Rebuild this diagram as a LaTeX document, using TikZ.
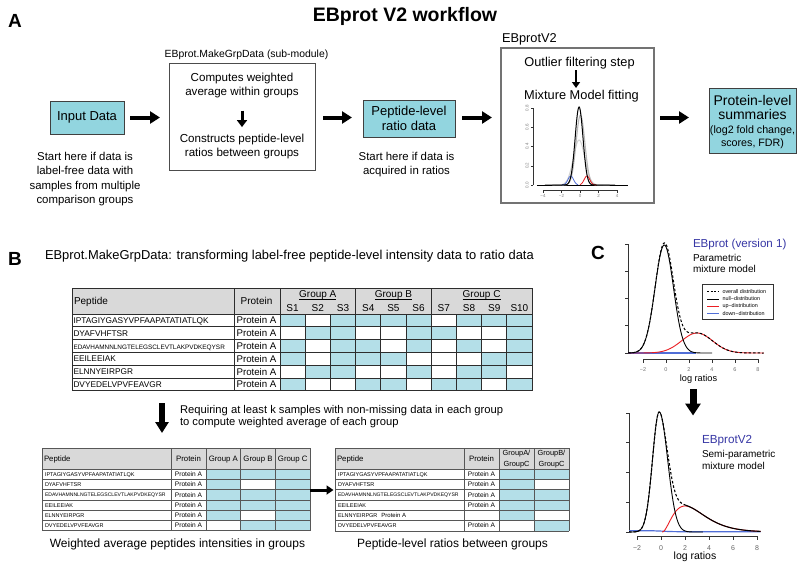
\documentclass[tikz,border=0pt]{standalone}
\usepackage{fontspec}
\setmainfont{Liberation Sans}
\usetikzlibrary{arrows.meta}
\definecolor{boxcyan}{RGB}{146,213,223}
\definecolor{cellblue}{RGB}{180,223,232}
\definecolor{hdrgray}{RGB}{217,217,217}
\definecolor{lblblue}{RGB}{55,55,165}
\definecolor{upred}{RGB}{235,30,35}
\definecolor{downblue}{RGB}{80,110,215}
\definecolor{gridc}{RGB}{45,45,45}
\newcommand{\fsz}[2]{\fontsize{#1}{#2}\selectfont}
\begin{document}
\begin{tikzpicture}[x=1pt,y=-1pt,
  every node/.style={inner sep=0pt,outer sep=0pt},
  cbox/.style={draw=black!75,line width=0.9pt,fill=boxcyan},
  bigarrow/.style={line width=4pt,-{Triangle[length=10pt,width=12pt]}},
  midarrow/.style={line width=3pt,-{Triangle[length=7pt,width=10pt]}},
  smallarrow/.style={line width=2.6pt,-{Triangle[length=6pt,width=8pt]}},
  fatdown/.style={line width=6pt,-{Triangle[length=11pt,width=13pt]}},
  gridline/.style={draw=gridc,line width=0.8pt},
  thingrid/.style={draw=gridc!80,line width=0.6pt},
  axisl/.style={draw=black!80,line width=0.6pt},
  ticklbl/.style={text=black!55,font=\fsz{5.5}{6}},
]
\useasboundingbox[fill=white] (0,0) rectangle (800,565);

% ================= A =================
\node[font=\bfseries\fsz{19}{19}, anchor=base] (lblA) at (15,27) {A};
\node[font=\bfseries\fsz{19.5}{20}, anchor=base] (title) at (405,21) {EBprot V2 workflow};

\node[cbox, minimum width=74pt, minimum height=33pt, font=\fsz{13}{15}] (inp) at (87,117.5) {Input Data};
\node[font=\fsz{11.4}{14.5}, align=center, anchor=north] (inpcap) at (85,151.8) {Start here if data is\\label-free data with\\samples from multiple\\comparison groups};

\node[font=\fsz{10.4}{12}, anchor=base] (mgl) at (246.5,57) {EBprot.MakeGrpData (sub-module)};
\node[draw=black!70, line width=0.9pt, minimum width=146pt, minimum height=107pt] (mg) at (242,116.5) {};
\node[font=\fsz{11.6}{13.6}, align=center, anchor=north] (mg1) at (242,73.2) {Computes weighted\\average within groups};
\node[font=\fsz{11.6}{14.6}, align=center, anchor=north] (mg2) at (242,133.6) {Constructs peptide-level\\ratios between groups};
\draw[midarrow, shorten <=13pt, shorten >=6.5pt] (mg1.south) -- (mg2.north);

\node[cbox, minimum width=92pt, minimum height=37pt, font=\fsz{13}{15}, align=center] (pep) at (409,118.5) {Peptide-level\\ratio data};
\node[font=\fsz{11.4}{14}, align=center, anchor=north] (pepcap) at (406.5,151.8) {Start here if data is\\acquired in ratios};

\node[font=\fsz{12.8}{14}, anchor=base west] (ebl) at (502,42.5) {EBprotV2};
\node[draw=black!55, line width=1.1pt, minimum width=153pt, minimum height=155pt] (ebv) at (577.5,125.5) {};
\node[font=\fsz{12.8}{14}, anchor=base] (outl) at (579.5,66) {Outlier filtering step};
\node[font=\fsz{12.8}{14}, anchor=base] (mix) at (581.5,99) {Mixture Model fitting};
\coordinate (oa) at (576,70);
\coordinate (ob) at (576,88);
\draw[smallarrow] (oa) -- (ob);

% mini plot
\draw[axisl,line width=0.5pt] (533,108) -- (533,185);
\foreach \yy/\lab in {185/0.0,165.75/0.2,146.5/0.4,127.25/0.6,108/0.8}{
  \draw[axisl,line width=0.5pt] (533,\yy) -- (530.5,\yy);
  \node[rotate=90, text=black!50, font=\fsz{4.5}{5}] at (527,\yy) {\lab};
}
\draw[axisl,line width=0.5pt] (543,190) -- (617,190);
\foreach \t/\lab in {-4/−4,-2/−2,0/0,2/2,4/4}{
  \draw[axisl,line width=0.5pt] ({580+\t*9.25},190) -- ({580+\t*9.25},192.5);
  \node[text=black!50, font=\fsz{4.5}{5}] at ({580+\t*9.25},196) {\lab};
}
\begin{scope}[shift={(580,185)},x=9.25pt,y=1pt]
  \draw[black,line width=0.8pt] (-4.65,0) -- (5.2,0);
  \draw[gray!35,line width=1pt] plot[domain=-3:3.2,samples=80,smooth] (\x,{45*exp(-((\x+0.1)*(\x+0.1))/0.75)});
  \draw[gray!55,line width=1.1pt] plot[domain=-3:3.2,samples=80,smooth] (\x,{70*exp(-((\x-0.05)*(\x-0.05))/0.45)});
  \draw[downblue,line width=0.8pt] plot[domain=-2:-0.2,samples=40,smooth] (\x,{9*exp(-((\x+1)*(\x+1))/0.18)});
  \draw[upred,line width=0.8pt] plot[domain=0:1.8,samples=40,smooth] (\x,{9*exp(-((\x-0.75)*(\x-0.75))/0.18)});
  \draw[black,line width=1pt] plot[domain=-3.8:3.8,samples=120,smooth] (\x,{78*exp(-((\x+0.1)*(\x+0.1))/0.36)});
\end{scope}

\node[cbox, minimum width=87pt, minimum height=65pt] (prot) at (752.5,120.5) {};
\node[font=\fsz{14}{14}, anchor=base] (pt1) at (752.5,105) {Protein-level};
\node[font=\fsz{14}{14}, anchor=base] (pt2) at (752.5,119) {summaries};
\node[font=\fsz{10.7}{12}, anchor=base] (pt3) at (752.5,133) {(log2 fold change,};
\node[font=\fsz{10.7}{12}, anchor=base] (pt4) at (752.5,146.5) {scores, FDR)};

\draw[bigarrow, shorten <=6pt, shorten >=9pt] (inp.east) -- (mg.west |- inp.east);
\draw[bigarrow, shorten <=8pt, shorten >=11pt] (mg.east |- inp.east) -- (pep.west |- inp.east);
\draw[bigarrow, shorten <=7pt, shorten >=9pt] (pep.east |- inp.east) -- (ebv.west |- inp.east);
\draw[bigarrow, shorten <=6pt, shorten >=20pt] (ebv.east |- inp.east) -- (prot.west |- inp.east);

% ================= B =================
\node[font=\bfseries\fsz{19}{19}, anchor=base] (lblB) at (15,265) {B};
\node[font=\fsz{12.9}{14}, anchor=base west] (btitle) at (45,259.5) {EBprot.MakeGrpData: transforming label-free peptide-level intensity data to ratio data};

% main table
\fill[hdrgray] (72,288) rectangle (532,314);
\foreach \row [count=\i] in {{1,0,1,1,1,1,0,1,1,1},{0,1,1,0,0,1,1,0,0,1},{1,0,1,1,0,1,0,1,0,1},{1,0,1,1,1,0,0,0,1,1},{0,1,1,0,0,1,0,1,1,0},{1,0,0,1,1,0,1,1,0,1}}{
  \foreach \v [count=\j] in \row {
    \ifnum\v=1 \fill[cellblue] ({280+(\j-1)*25.2},{314+(\i-1)*12.8}) rectangle ++(25.2,12.8);\fi
  }
}
\draw[gridline] (72,288) -- (532,288);
\foreach \k in {0,...,6} \draw[gridline] (72,{314+\k*12.8}) -- (532,{314+\k*12.8});
\foreach \xx in {72,234,280} \draw[gridline] (\xx,288) -- (\xx,390.8);
\foreach \k in {1,...,10} \draw[gridline] ({280+\k*25.2},314) -- ({280+\k*25.2},390.8);
\foreach \k in {3,6,10} \draw[gridline] ({280+\k*25.2},288) -- ({280+\k*25.2},314);
\node[anchor=base west, font=\fsz{10}{12}] (hpep) at (74,304.5) {Peptide};
\node[anchor=base, font=\fsz{10}{12}] (hprot) at (256.5,304.5) {Protein};
\node[anchor=base, font=\fsz{10}{12}] (gA) at (317.8,297) {Group A};
\node[anchor=base, font=\fsz{10}{12}] (gB) at (393.4,297) {Group B};
\node[anchor=base, font=\fsz{10}{12}] (gC) at (481.6,297) {Group C};
\foreach \g in {gA,gB,gC} \draw[black,line width=0.6pt] ([yshift=-0.3pt]\g.south west) -- ([yshift=-0.3pt]\g.south east);
\foreach \j in {1,...,10} \node[anchor=base, font=\fsz{10}{12}] (s\j) at ({280+(\j-0.5)*25.2},311) {S\j};
\foreach \p/\f [count=\i] in {IPTAGIYGASYVPFAAPATATIATLQK/8.3,DYAFVHFTSR/8.3,EDAVHAMNNLNGTELEGSCLEVTLAKPVDKEQYSR/6.4,EEILEEIAK/8.3,ELNNYEIRPGR/8.3,DVYEDELVPVFEAVGR/8.3}
  \node[anchor=base west, font=\fsz{\f}{10}] (mpep\i) at (73.5,{314+(\i-1)*12.8+9.4}) {\p};
\foreach \i in {1,...,6} \node[anchor=base, font=\fsz{9.7}{11}] (mprot\i) at (256.5,{314+(\i-1)*12.8+9.9}) {Protein A};

\coordinate (dA) at (162,403);
\coordinate (dB) at (162,433);
\draw[fatdown] (dA) -- (dB);
\node[anchor=north west, font=\fsz{11.2}{12.7}, align=left] (req) at (180,405) {Requiring at least k samples with non-missing data in each group\\to compute weighted average of each group};

% lower left table
\fill[hdrgray] (42,448) rectangle (310,469.3);
\foreach \row [count=\i] in {{1,1,1},{1,0,1},{1,1,1},{1,1,1},{1,0,1},{0,1,1}}{
  \foreach \v [count=\j] in \row {
    \ifnum\v=1 \fill[cellblue] ({206+(\j-1)*34.67},{469.3+(\i-1)*10.2}) rectangle ++(34.67,10.2);\fi
  }
}
\draw[thingrid] (42,448) -- (310,448);
\foreach \k in {0,...,6} \draw[thingrid] (42,{469.3+\k*10.2}) -- (310,{469.3+\k*10.2});
\foreach \xx in {42,171,206,240.67,275.33,310} \draw[thingrid] (\xx,448) -- (\xx,530.5);
\node[anchor=base west, font=\fsz{7.8}{9}] (lhpep) at (44,461.5) {Peptide};
\node[anchor=base, font=\fsz{7.8}{9}] (lhprot) at (188.5,461.5) {Protein};
\node[anchor=base, font=\fsz{7.8}{9}] (lgA) at (223.3,461.5) {Group A};
\node[anchor=base, font=\fsz{7.8}{9}] (lgB) at (258,461.5) {Group B};
\node[anchor=base, font=\fsz{7.8}{9}] (lgC) at (292.7,461.5) {Group C};
\foreach \p/\f [count=\i] in {IPTAGIYGASYVPFAAPATATIATLQK/5.5,DYAFVHFTSR/5.5,EDAVHAMNNLNGTELEGSCLEVTLAKPVDKEQYSR/5.1,EEILEEIAK/5.5,ELNNYEIRPGR/5.5,DVYEDELVPVFEAVGR/5.5}
  \node[anchor=base west, font=\fsz{\f}{7}] (lpep\i) at (45,{469.3+(\i-1)*10.2+7.1}) {\p};
\foreach \i in {1,...,6} \node[anchor=base, font=\fsz{6.6}{8}] (lprot\i) at (188.5,{469.3+(\i-1)*10.2+7.4}) {Protein A};
\node[anchor=base, font=\fsz{12}{14}] (capL) at (177.5,547) {Weighted average peptides intensities in groups};

% lower right table
\fill[hdrgray] (335,448) rectangle (569,469);
\foreach \row [count=\i] in {{1,1},{1,0},{1,1},{1,1},{1,0},{0,1}}{
  \foreach \v [count=\j] in \row {
    \ifnum\v=1 \fill[cellblue] ({499+(\j-1)*35},{469+(\i-1)*10.3}) rectangle ++(35,10.3);\fi
  }
}
\draw[thingrid] (335,448) -- (569,448);
\foreach \k in {0,...,6} \draw[thingrid] (335,{469+\k*10.3}) -- (569,{469+\k*10.3});
\foreach \xx in {335,464,499,534,569} \draw[thingrid] (\xx,448) -- (\xx,530.8);
\node[anchor=base west, font=\fsz{7.8}{9}] (rhpep) at (337,461.5) {Peptide};
\node[anchor=base, font=\fsz{7.8}{9}] (rhprot) at (481.5,461.5) {Protein};
\node[anchor=base, font=\fsz{7.4}{9}] (rgA1) at (516.5,455) {GroupA/};
\node[anchor=base, font=\fsz{7.4}{9}] (rgA2) at (516.5,466.3) {GroupC};
\node[anchor=base, font=\fsz{7.4}{9}] (rgB1) at (551.5,455) {GroupB/};
\node[anchor=base, font=\fsz{7.4}{9}] (rgB2) at (551.5,466.3) {GroupC};
\foreach \p/\f [count=\i] in {IPTAGIYGASYVPFAAPATATIATLQK/5.5,DYAFVHFTSR/5.5,EDAVHAMNNLNGTELEGSCLEVTLAKPVDKEQYSR/5.1,EEILEEIAK/5.5,{ELNNYEIRPGR\hspace{4pt}{\fsz{6}{7}Protein A}}/5.5,DVYEDELVPVFEAVGR/5.5}
  \node[anchor=base west, font=\fsz{\f}{7}] (rpep\i) at (338,{469+(\i-1)*10.3+7.1}) {\p};
\foreach \i in {1,2,3,4,6} \node[anchor=base, font=\fsz{6.6}{8}] (rprot\i) at (481.5,{469+(\i-1)*10.3+7.4}) {Protein A};
\node[anchor=base, font=\fsz{12}{14}] (capR) at (452.5,547) {Peptide-level ratios between groups};

\coordinate (lt) at (310,490);
\coordinate (rt) at (333.5,490);
\draw[line width=3pt,-{Triangle[length=7pt,width=9pt]}] (lt) -- (rt);

% ================= C =================
\node[font=\bfseries\fsz{19}{19}, anchor=base] (lblC) at (598,259.5) {C};

% top plot
\draw[axisl] (628,244) -- (628,353);
\foreach \yy in {244,271.25,298.5,325.75,353} \draw[axisl] (628,\yy) -- (624.5,\yy);
\draw[axisl] (643,359) -- (758,359);
\foreach \t/\lab in {-2/−2,0/0,2/2,4/4,6/6,8/8}{
  \draw[axisl] ({666+\t*11.5},359) -- ({666+\t*11.5},362.5);
  \node[ticklbl] at ({666+\t*11.5},369.5) {\lab};
}
\node[anchor=base, font=\fsz{9.2}{10}] (xl1) at (698.5,381) {log ratios};
\begin{scope}[shift={(666,353)},x=11.5pt,y=1pt]
  \draw[downblue,line width=1.1pt] (-3.3,0) -- (2.6,0);
  \draw[upred,line width=0.9pt] plot[domain=-3.3:8.5,samples=100,smooth] (\x,{20*exp(-((\x-2.7)*(\x-2.7))/3.645)});
  \draw[black,line width=0.9pt] plot[domain=-3.3:4,samples=100,smooth] (\x,{108*exp(-((\x+0.15)*(\x+0.15))/1.28)});
  \draw[black,line width=1pt,dash pattern=on 2.5pt off 2pt] plot[domain=-3.3:8.5,samples=140,smooth] (\x,{108*exp(-((\x+0.15)*(\x+0.15))/1.28)+20*exp(-((\x-2.7)*(\x-2.7))/3.645)});
\end{scope}
\node[draw=black!80, line width=0.6pt, minimum width=71pt, minimum height=35pt] (leg) at (737.5,301.5) {};
\draw[black,line width=0.7pt,dash pattern=on 2pt off 1.5pt] (707,291.7) -- (719,291.7);
\node[anchor=west, font=\fsz{5.4}{6}] (lg1) at (722.5,291.7) {overall distribution};
\draw[black,line width=0.7pt] (707,298.9) -- (719,298.9);
\node[anchor=west, font=\fsz{5.4}{6}] (lg2) at (722.5,298.9) {null−distribution};
\draw[upred,line width=0.7pt] (707,306.1) -- (719,306.1);
\node[anchor=west, font=\fsz{5.4}{6}] (lg3) at (722.5,306.1) {up−distribution};
\draw[downblue,line width=1pt] (707,313.3) -- (719,313.3);
\node[anchor=west, font=\fsz{5.4}{6}] (lg4) at (722.5,313.3) {down−distribution};

\node[anchor=base west, text=lblblue, font=\fsz{11.6}{13}] (v1) at (693,247.5) {EBprot (version 1)};
\node[anchor=base west, font=\fsz{10}{11}] (v1a) at (693,261.5) {Parametric};
\node[anchor=base west, font=\fsz{10}{11}] (v1b) at (693,272.5) {mixture model};

\coordinate (cA) at (693,389);
\coordinate (cB) at (693,415.5);
\draw[line width=7pt,-{Triangle[length=12pt,width=15pt]}] (cA) -- (cB);

% bottom plot
\draw[axisl] (629,413) -- (629,532);
\foreach \yy in {413,442.75,472.5,502.25,532} \draw[axisl] (629,\yy) -- (625.5,\yy);
\draw[axisl] (637,536) -- (757,536);
\foreach \t/\lab in {-2/−2,0/0,2/2,4/4,6/6,8/8}{
  \draw[axisl] ({661+\t*12},536) -- ({661+\t*12},539.5);
  \node[text=black!60,font=\fsz{7}{8}] at ({661+\t*12},548) {\lab};
}
\node[anchor=base, font=\fsz{10.5}{12}] (xl2) at (695,559.5) {log ratios};
\begin{scope}[shift={(661,532)},x=12pt,y=1pt]
  \draw[downblue,line width=1.2pt] plot[smooth] coordinates {(-2.65,1.3) (-1,1.3) (0,0.9) (1,0.4) (3,0.3) (8.3,0.3)};
  \draw[upred,line width=0.9pt] plot[domain=0.1:8.3,samples=120,smooth] (\x,{26*((\x-0.1)/1.9)*((\x-0.1)/1.9)*exp(2-2*(\x-0.1)/1.9)});
  \draw[black,line width=0.9pt] plot[domain=-2.65:3.5,samples=120,smooth] (\x,{120*exp(-((\x+0.15)*(\x+0.15))/ifthenelse(\x<-0.15,0.62,0.98))});
  \draw[black,line width=1.1pt,dash pattern=on 2.5pt off 2pt] plot[domain=-2.65:1.9,samples=100,smooth] (\x,{120*exp(-((\x+0.15)*(\x+0.15))/ifthenelse(\x<-0.15,0.62,0.98))+26*(max(\x-0.1,0)/1.9)*(max(\x-0.1,0)/1.9)*exp(2-2*max(\x-0.1,0)/1.9)});
  \draw[black,line width=1.1pt] plot[domain=1.9:8.3,samples=100,smooth] (\x,{120*exp(-((\x+0.15)*(\x+0.15))/0.98)+26*((\x-0.1)/1.9)*((\x-0.1)/1.9)*exp(2-2*(\x-0.1)/1.9)});
\end{scope}
\node[anchor=base west, text=lblblue, font=\fsz{11.7}{13}] (v2) at (702,443.3) {EBprotV2};
\node[anchor=base west, font=\fsz{10}{11}] (v2a) at (702,457.3) {Semi-parametric};
\node[anchor=base west, font=\fsz{10}{11}] (v2b) at (702,469) {mixture model};
\end{tikzpicture}
\end{document}
